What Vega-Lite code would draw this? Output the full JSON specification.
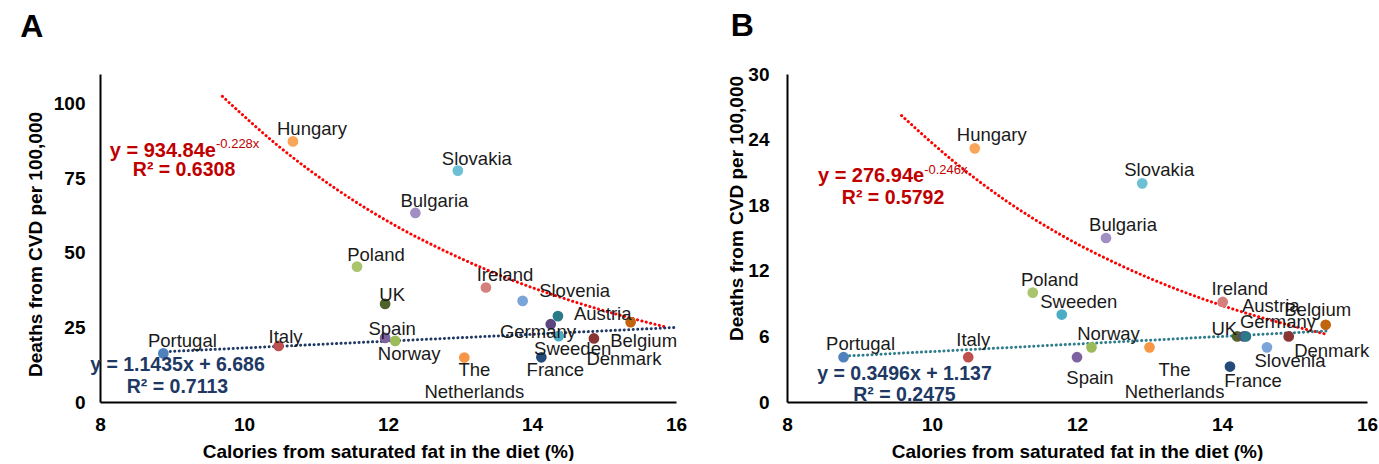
{
  "$schema": "https://vega.github.io/schema/vega-lite/v6.json",
  "background": "white",
  "padding": {"left": 20, "top": 10, "right": 0, "bottom": 0},
  "config": {
    "view": {"stroke": null},
    "font": "Liberation Sans",
    "text": {"font": "Liberation Sans"},
    "axis": {"domainColor": "#000000", "domainWidth": 2, "ticks": false, "tickSize": 0, "grid": false, "labelFont": "Liberation Sans", "labelFontSize": 19, "labelFontWeight": "bold", "labelColor": "#000000", "titleFont": "Liberation Sans", "titleFontSize": 19, "titleFontWeight": "bold", "titleColor": "#000000", "labelOverlap": false, "labelFlush": false},
    "axisX": {"labelPadding": 13, "titlePadding": 8},
    "title": {"font": "Liberation Sans", "fontSize": 32, "fontWeight": "bold", "color": "#000000", "anchor": "start", "frame": "bounds"}
  },
  "datasets": {
    "ptsA": [
      {"country": "Portugal", "x": 8.88, "y": 16.3},
      {"country": "Italy", "x": 10.48, "y": 18.8},
      {"country": "Hungary", "x": 10.68, "y": 87.4},
      {"country": "Poland", "x": 11.57, "y": 45.4},
      {"country": "UK", "x": 11.96, "y": 32.9},
      {"country": "Spain", "x": 11.96, "y": 21.5},
      {"country": "Norway", "x": 12.1, "y": 20.5},
      {"country": "Bulgaria", "x": 12.38, "y": 63.4},
      {"country": "Slovakia", "x": 12.97, "y": 77.6},
      {"country": "The Netherlands", "x": 13.06, "y": 14.9},
      {"country": "Ireland", "x": 13.36, "y": 38.4},
      {"country": "Slovenia", "x": 13.87, "y": 33.9},
      {"country": "France", "x": 14.13, "y": 15.0},
      {"country": "Germany", "x": 14.36, "y": 28.8},
      {"country": "Austria", "x": 14.26, "y": 26.1},
      {"country": "Sweeden", "x": 14.37, "y": 22.1},
      {"country": "Denmark", "x": 14.86, "y": 21.3},
      {"country": "Belgium", "x": 15.37, "y": 26.8}
    ],
    "ptsB": [
      {"country": "Portugal", "x": 8.78, "y": 4.1},
      {"country": "Italy", "x": 10.5, "y": 4.1},
      {"country": "Hungary", "x": 10.59, "y": 23.2},
      {"country": "Poland", "x": 11.39, "y": 10.0},
      {"country": "Sweeden", "x": 11.79, "y": 8.0},
      {"country": "Spain", "x": 12.0, "y": 4.1},
      {"country": "Norway", "x": 12.2, "y": 5.0},
      {"country": "Bulgaria", "x": 12.4, "y": 15.0},
      {"country": "Slovakia", "x": 12.9, "y": 20.0},
      {"country": "The Netherlands", "x": 13.0, "y": 5.0},
      {"country": "Ireland", "x": 14.01, "y": 9.15},
      {"country": "France", "x": 14.11, "y": 3.24},
      {"country": "UK", "x": 14.21, "y": 6.0},
      {"country": "Austria", "x": 14.3, "y": 6.0},
      {"country": "Germany", "x": 14.33, "y": 6.0},
      {"country": "Slovenia", "x": 14.62, "y": 5.0},
      {"country": "Denmark", "x": 14.92, "y": 6.0},
      {"country": "Belgium", "x": 15.43, "y": 7.06}
    ],
    "expA": [
      {"x": 9.7, "y": 102.5}, {"x": 10.5, "y": 85.4}, {"x": 11.3, "y": 71.1}, {"x": 12.1, "y": 59.2}, {"x": 12.9, "y": 49.4}, {"x": 13.7, "y": 41.1}, {"x": 14.5, "y": 34.3}, {"x": 15.3, "y": 28.6}, {"x": 15.85, "y": 25.2}
    ],
    "linA": [{"x": 8.85, "y": 16.8}, {"x": 16.0, "y": 25.0}],
    "expB": [
      {"x": 9.58, "y": 26.2}, {"x": 10.3, "y": 22.0}, {"x": 11.0, "y": 18.5}, {"x": 11.8, "y": 15.2}, {"x": 12.6, "y": 12.5}, {"x": 13.4, "y": 10.25}, {"x": 14.2, "y": 8.4}, {"x": 14.9, "y": 7.08}, {"x": 15.44, "y": 6.2}
    ],
    "linB": [{"x": 8.8, "y": 4.2}, {"x": 15.45, "y": 6.5}]
  },
  "bounds": "flush",
  "spacing": 111,
  "hconcat": [
    {
      "title": {"text": "A", "offset": 30, "dx": -6},
      "width": 576,
      "height": 328,
      "data": {"name": "ptsA"},
      "encoding": {
        "x": {"field": "x", "type": "quantitative", "scale": {"domain": [8, 16], "nice": false, "zero": false}, "axis": {"values": [8, 10, 12, 14, 16], "title": "Calories from saturated fat in the diet (%)"}},
        "y": {"field": "y", "type": "quantitative", "scale": {"domain": [0, 110], "nice": false}, "axis": {"values": [0, 25, 50, 75, 100], "title": "Deaths from CVD per 100,000", "labelPadding": 15, "titlePadding": 8, "titleY": 170}}
      },
      "layer": [
        {"data": {"name": "expA"}, "mark": {"type": "line", "color": "#FF0000", "strokeWidth": 3, "strokeDash": [0.1, 4.4], "strokeCap": "round", "interpolate": "monotone"}, "encoding": {}},
        {"data": {"name": "linA"}, "mark": {"type": "line", "color": "#1F3864", "strokeWidth": 3, "strokeDash": [0.1, 4.4], "strokeCap": "round"}, "encoding": {}},
        {"mark": {"type": "circle", "size": 115, "opacity": 1}, "encoding": {"color": {"field": "country", "type": "nominal", "legend": null, "scale": {"domain": ["Portugal", "Italy", "Hungary", "Poland", "UK", "Spain", "Norway", "Bulgaria", "Slovakia", "The Netherlands", "Ireland", "Slovenia", "France", "Austria", "Germany", "Sweeden", "Denmark", "Belgium"], "range": ["#4F81BD", "#C0504D", "#F9A65A", "#A9C46C", "#4F6228", "#7E62A0", "#9BBB59", "#A18EC2", "#6CC0D6", "#F79646", "#D57F7D", "#7BA4D8", "#254B7A", "#5C4680", "#2A7A88", "#4BACC6", "#8A3533", "#C0640E"]}}}},
        {"transform": [{"filter": {"field": "country", "oneOf": ["Hungary", "Slovakia", "Bulgaria", "Poland", "Ireland", "Portugal"]}}], "mark": {"type": "text", "dx": 19, "dy": -12, "fontSize": 18.5, "color": "#1a1a1a"}, "encoding": {"text": {"field": "country"}}},
        {"transform": [{"filter": {"field": "country", "oneOf": ["UK", "Spain", "Italy"]}}], "mark": {"type": "text", "dx": 7, "dy": -9, "fontSize": 18.5, "color": "#1a1a1a"}, "encoding": {"text": {"field": "country"}}},
        {"transform": [{"filter": {"field": "country", "oneOf": ["Slovenia", "Austria"]}}], "mark": {"type": "text", "dx": 52, "dy": -10, "fontSize": 18.5, "color": "#1a1a1a"}, "encoding": {"text": {"field": "country"}}},
        {"transform": [{"filter": {"field": "country", "oneOf": ["Sweeden", "Norway", "France"]}}], "mark": {"type": "text", "dx": 14, "dy": 13, "fontSize": 18.5, "color": "#1a1a1a"}, "encoding": {"text": {"field": "country"}}},
        {"transform": [{"filter": {"field": "country", "oneOf": ["Belgium"]}}], "mark": {"type": "text", "dx": 13, "dy": 19, "fontSize": 18.5, "color": "#1a1a1a"}, "encoding": {"text": {"field": "country"}}},
        {"transform": [{"filter": {"field": "country", "oneOf": ["Denmark"]}}], "mark": {"type": "text", "dx": 30, "dy": 21, "fontSize": 18.5, "color": "#1a1a1a"}, "encoding": {"text": {"field": "country"}}},
        {"transform": [{"filter": {"field": "country", "oneOf": ["Germany"]}}], "mark": {"type": "text", "dx": -20, "dy": 16, "fontSize": 18.5, "color": "#1a1a1a"}, "encoding": {"text": {"field": "country"}}},
        {"transform": [{"filter": {"field": "country", "oneOf": ["The Netherlands"]}}], "mark": {"type": "text", "dx": 10, "dy": 12, "fontSize": 18.5, "color": "#1a1a1a", "lineBreak": " ", "lineHeight": 22}, "encoding": {"text": {"field": "country"}}},
        {"data": {"values": [{"x": 9.611, "y": 84.3, "t": "y = 934.84e"}]}, "mark": {"type": "text", "align": "right", "fontSize": 20, "fontWeight": "bold", "color": "#C00000"}, "encoding": {"text": {"field": "t"}}},
        {"data": {"values": [{"x": 9.611, "y": 86.5, "t": "-0.228x"}]}, "mark": {"type": "text", "align": "left", "fontSize": 13, "color": "#C00000"}, "encoding": {"text": {"field": "t"}}},
        {"data": {"values": [{"x": 9.167, "y": 77.8, "t": "R² = 0.6308"}]}, "mark": {"type": "text", "align": "center", "fontSize": 19.5, "fontWeight": "bold", "color": "#C00000"}, "encoding": {"text": {"field": "t"}}},
        {"data": {"values": [{"x": 9.076, "y": 12.4, "t": "y = 1.1435x + 6.686"}, {"x": 9.076, "y": 5.1, "t": "R² = 0.7113"}]}, "mark": {"type": "text", "align": "center", "fontSize": 19.5, "fontWeight": "bold", "color": "#203864"}, "encoding": {"text": {"field": "t"}}}
      ]
    },
    {
      "title": {"text": "B", "offset": 22, "dx": 3},
      "width": 580,
      "height": 328,
      "data": {"name": "ptsB"},
      "encoding": {
        "x": {"field": "x", "type": "quantitative", "scale": {"domain": [8, 16], "nice": false, "zero": false}, "axis": {"values": [8, 10, 12, 14, 16], "title": "Calories from saturated fat in the diet (%)"}},
        "y": {"field": "y", "type": "quantitative", "scale": {"domain": [0, 30], "nice": false}, "axis": {"values": [0, 6, 12, 18, 24, 30], "title": "Deaths from CVD per 100,000", "labelPadding": 18, "titlePadding": 1, "titleY": 134}}
      },
      "layer": [
        {"data": {"name": "expB"}, "mark": {"type": "line", "color": "#FF0000", "strokeWidth": 3, "strokeDash": [0.1, 4.4], "strokeCap": "round", "interpolate": "monotone"}, "encoding": {}},
        {"data": {"name": "linB"}, "mark": {"type": "line", "color": "#2E7C8C", "strokeWidth": 3, "strokeDash": [0.1, 4.4], "strokeCap": "round"}, "encoding": {}},
        {"mark": {"type": "circle", "size": 115, "opacity": 1}, "encoding": {"color": {"field": "country", "type": "nominal", "legend": null, "scale": {"domain": ["Portugal", "Italy", "Hungary", "Poland", "UK", "Spain", "Norway", "Bulgaria", "Slovakia", "The Netherlands", "Ireland", "Slovenia", "France", "Austria", "Germany", "Sweeden", "Denmark", "Belgium"], "range": ["#4F81BD", "#C0504D", "#F9A65A", "#A9C46C", "#4F6228", "#7E62A0", "#9BBB59", "#A18EC2", "#6CC0D6", "#F79646", "#D57F7D", "#7BA4D8", "#254B7A", "#5C4680", "#2A7A88", "#4BACC6", "#8A3533", "#C0640E"]}}}},
        {"transform": [{"filter": {"field": "country", "oneOf": ["Hungary", "Poland", "Sweeden", "Norway", "Portugal", "Bulgaria", "Slovakia", "Ireland"]}}], "mark": {"type": "text", "dx": 17, "dy": -13, "fontSize": 18.5, "color": "#1a1a1a"}, "encoding": {"text": {"field": "country"}}},
        {"transform": [{"filter": {"field": "country", "oneOf": ["Italy"]}}], "mark": {"type": "text", "dx": 5, "dy": -17, "fontSize": 18.5, "color": "#1a1a1a"}, "encoding": {"text": {"field": "country"}}},
        {"transform": [{"filter": {"field": "country", "oneOf": ["Austria"]}}], "mark": {"type": "text", "dx": 27, "dy": -30, "fontSize": 18.5, "color": "#1a1a1a"}, "encoding": {"text": {"field": "country"}}},
        {"transform": [{"filter": {"field": "country", "oneOf": ["Belgium"]}}], "mark": {"type": "text", "dx": -8, "dy": -15, "fontSize": 18.5, "color": "#1a1a1a"}, "encoding": {"text": {"field": "country"}}},
        {"transform": [{"filter": {"field": "country", "oneOf": ["UK"]}}], "mark": {"type": "text", "dx": -13, "dy": -7, "fontSize": 18.5, "color": "#1a1a1a"}, "encoding": {"text": {"field": "country"}}},
        {"transform": [{"filter": {"field": "country", "oneOf": ["Germany"]}}], "mark": {"type": "text", "dx": 32, "dy": -14, "fontSize": 18.5, "color": "#1a1a1a"}, "encoding": {"text": {"field": "country"}}},
        {"transform": [{"filter": {"field": "country", "oneOf": ["Spain"]}}], "mark": {"type": "text", "dx": 13, "dy": 21, "fontSize": 18.5, "color": "#1a1a1a"}, "encoding": {"text": {"field": "country"}}},
        {"transform": [{"filter": {"field": "country", "oneOf": ["Slovenia", "France"]}}], "mark": {"type": "text", "dx": 23, "dy": 14, "fontSize": 18.5, "color": "#1a1a1a"}, "encoding": {"text": {"field": "country"}}},
        {"transform": [{"filter": {"field": "country", "oneOf": ["Denmark"]}}], "mark": {"type": "text", "dx": 43, "dy": 15, "fontSize": 18.5, "color": "#1a1a1a"}, "encoding": {"text": {"field": "country"}}},
        {"transform": [{"filter": {"field": "country", "oneOf": ["The Netherlands"]}}], "mark": {"type": "text", "dx": 25, "dy": 23, "fontSize": 18.5, "color": "#1a1a1a", "lineBreak": " ", "lineHeight": 22}, "encoding": {"text": {"field": "country"}}},
        {"data": {"values": [{"x": 9.892, "y": 20.71, "t": "y = 276.94e"}]}, "mark": {"type": "text", "align": "right", "fontSize": 20, "fontWeight": "bold", "color": "#C00000"}, "encoding": {"text": {"field": "t"}}},
        {"data": {"values": [{"x": 9.892, "y": 21.22, "t": "-0.246x"}]}, "mark": {"type": "text", "align": "left", "fontSize": 13, "color": "#C00000"}, "encoding": {"text": {"field": "t"}}},
        {"data": {"values": [{"x": 9.463, "y": 18.69, "t": "R² = 0.5792"}]}, "mark": {"type": "text", "align": "center", "fontSize": 19.5, "fontWeight": "bold", "color": "#C00000"}, "encoding": {"text": {"field": "t"}}},
        {"data": {"values": [{"x": 9.62, "y": 2.57, "t": "y = 0.3496x + 1.137"}, {"x": 9.62, "y": 0.64, "t": "R² = 0.2475"}]}, "mark": {"type": "text", "align": "center", "fontSize": 19.5, "fontWeight": "bold", "color": "#203864"}, "encoding": {"text": {"field": "t"}}}
      ]
    }
  ]
}
